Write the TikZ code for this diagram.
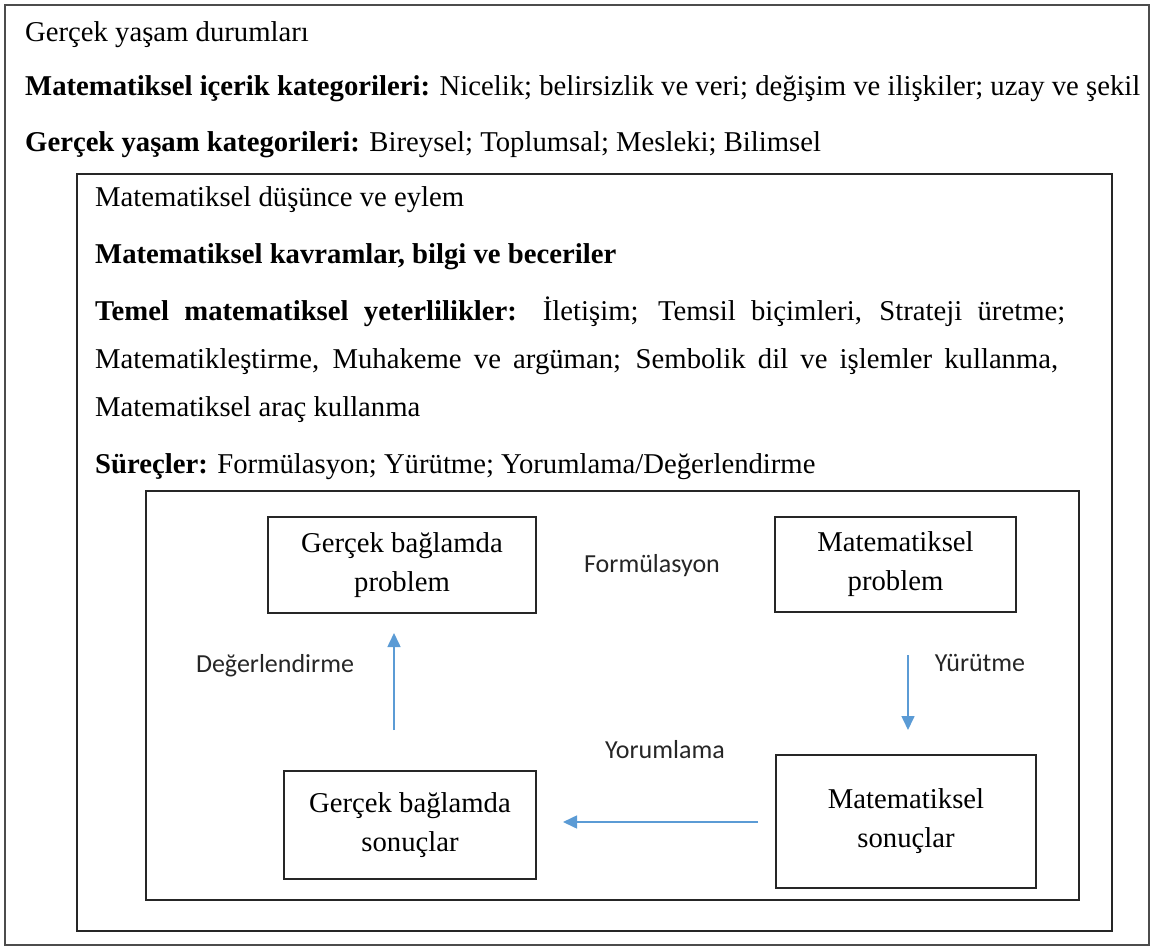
\documentclass[tikz,border=0pt]{standalone}
\usepackage{fontspec}
\setmainfont{Liberation Serif}
\newfontfamily\labelfont{Carlito}
\usetikzlibrary{arrows.meta}
\definecolor{flowblue}{HTML}{5B9BD5}

\begin{document}
\begin{tikzpicture}[x=1pt,y=-1pt,
  frame/.style={draw=black!85, line width=1.5pt},
  outerframe/.style={draw=black!70, line width=1.2pt},
  line/.style={anchor=base west, inner sep=0pt, font=\fontsize{28.7}{39}\selectfont},
  stagebox/.style={frame, align=center, inner sep=0pt, font=\fontsize{28.7}{39}\selectfont},
  flowlabel/.style={font=\labelfont\fontsize{26}{30}\selectfont, text=black!85, inner sep=0pt},
  flow/.style={draw=flowblue, line width=1.6pt, -{Triangle[length=14pt,width=13pt]}}]
\useasboundingbox (0,0) rectangle (1151,947);

% three nested frames
\draw[outerframe] (5,5) rectangle (1149,945);
\draw[frame] (77,174) rectangle (1112,931);
\draw[frame] (146,491) rectangle (1079,900);

% real-life context
\node[line] (t1) at (25,42) {Gerçek yaşam durumları};
\node[line] (t2) at (25,96) {\textbf{Matematiksel içerik kategorileri:} Nicelik; belirsizlik ve veri; değişim ve ilişkiler; uzay ve şekil};
\node[line] (t3) at (25,152) {\textbf{Gerçek yaşam kategorileri:} Bireysel; Toplumsal; Mesleki; Bilimsel};

% mathematical thought and action
\node[line] (m1) at (95,206) {Matematiksel düşünce ve eylem};
\node[line] (m2) at (95,263) {\textbf{Matematiksel kavramlar, bilgi ve beceriler}};
\node[line] (m3) at (95,320) {\makebox[970pt][s]{\textbf{Temel matematiksel yeterlilikler:} İletişim; Temsil biçimleri, Strateji üretme;}};
\node[line] (m4) at (95,368) {\makebox[963pt][s]{Matematikleştirme, Muhakeme ve argüman; Sembolik dil ve işlemler kullanma,}};
\node[line] (m5) at (95,416) {Matematiksel araç kullanma};
\node[line] (m6) at (95,473) {\textbf{Süreçler:} Formülasyon; Yürütme; Yorumlama/Değerlendirme};

% modelling cycle
\node[stagebox, minimum width=268pt, minimum height=96pt] (gp) at (402,565) {Gerçek bağlamda\\problem};
\node[stagebox, minimum width=241pt, minimum height=95pt] (mp) at (895.5,564.5) {Matematiksel\\problem};
\node[stagebox, minimum width=260pt, minimum height=133pt] (ms) at (906,821.5) {Matematiksel\\sonuçlar};
\node[stagebox, minimum width=252pt, minimum height=108pt] (gs) at (410,825) {Gerçek bağlamda\\sonuçlar};

\coordinate (evalS) at (394,730);
\coordinate (evalE) at (394,633);
\coordinate (execS) at (908,655);
\coordinate (execE) at (908,730);
\coordinate (intS) at (758,822);
\coordinate (intE) at (563,822);

\draw[flow] (evalS) -- (evalE);
\draw[flow] (execS) -- (execE);
\draw[flow] (intS) -- (intE);

\node[flowlabel] (lf) at (652,566) {Formülasyon};
\node[flowlabel] (ld) at (275,666) {Değerlendirme};
\node[flowlabel] (ly) at (980,663) {Yürütme};
\node[flowlabel] (lr) at (665,750) {Yorumlama};
\end{tikzpicture}
\end{document}
